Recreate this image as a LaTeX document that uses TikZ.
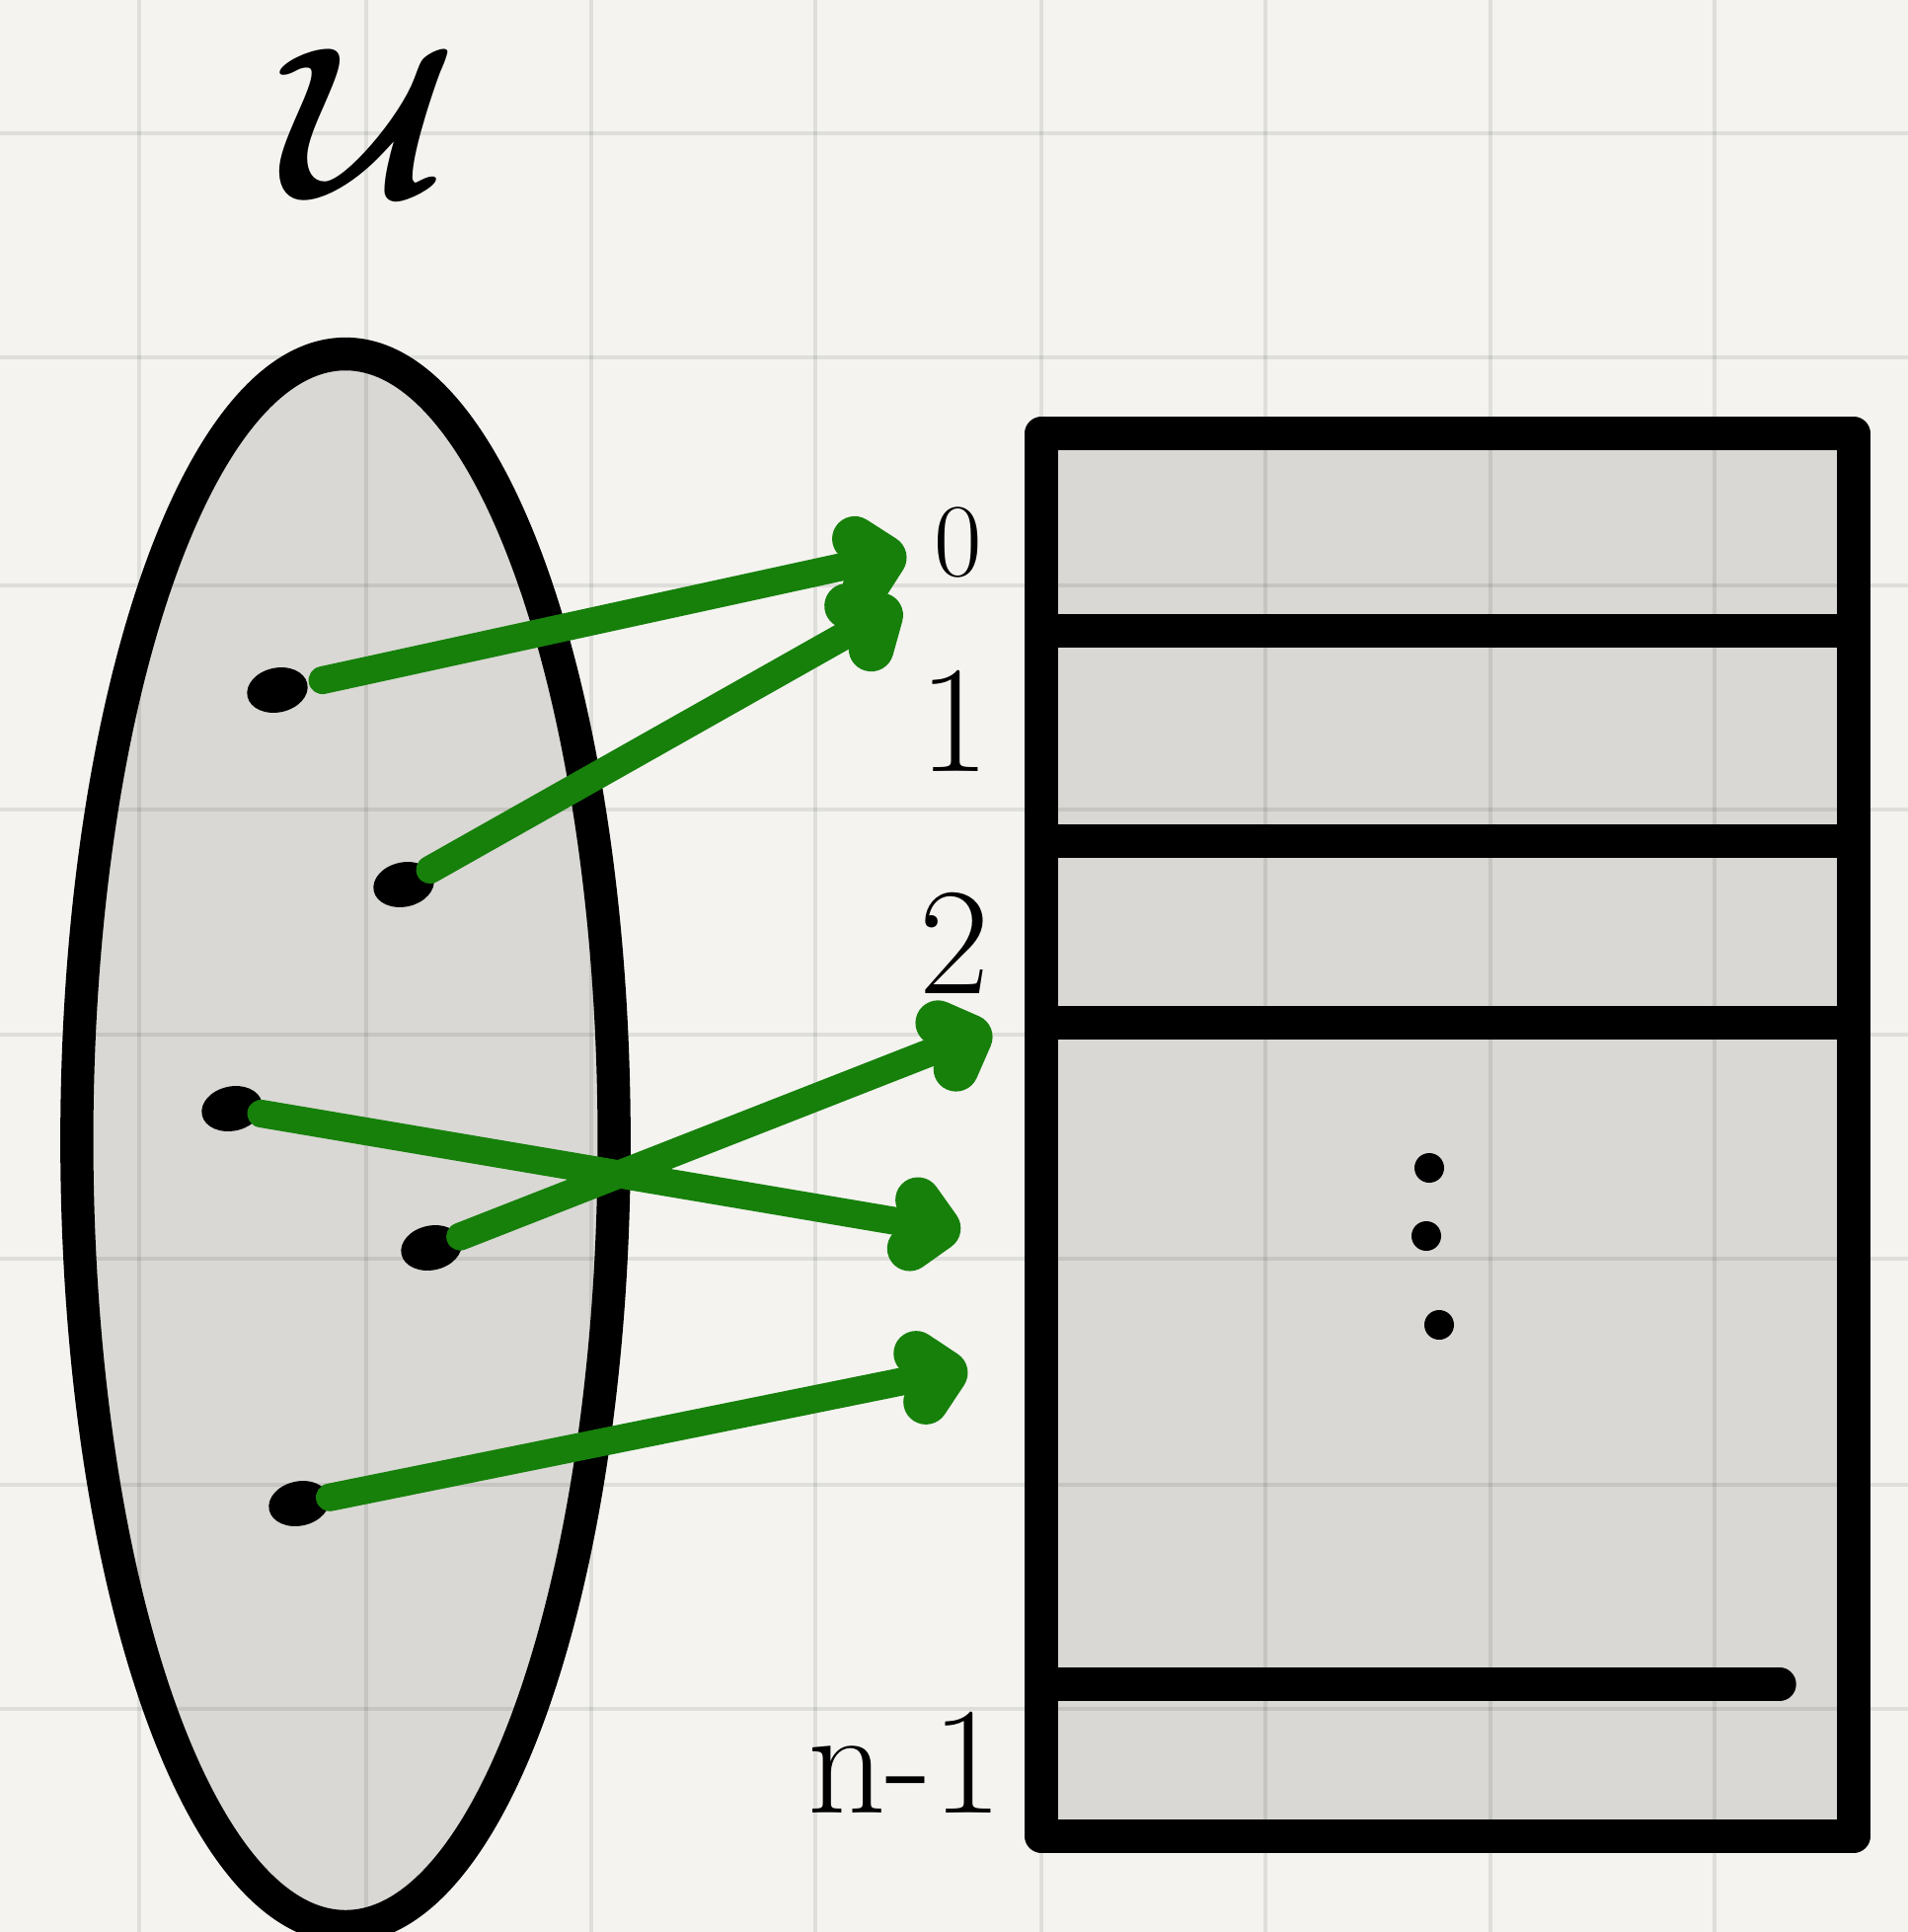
\documentclass[tikz,border=0pt]{standalone}
\usepackage{amsmath,amssymb}
\usetikzlibrary{arrows.meta,shapes.geometric}
\definecolor{paper}{HTML}{F4F3F0}
\definecolor{slotgray}{HTML}{D9D8D4}
\definecolor{mapgreen}{HTML}{16800A}
\tikzset{
  keydot/.style={ellipse, fill=black, inner sep=0pt, minimum width=0.62cm, minimum height=0.45cm, rotate=12},
  hasharrow/.style={draw=mapgreen, line width=8pt, line cap=round, -{Straight Barb[length=2.5mm,width=5mm,round,line width=13pt]}},
  slotlabel/.style={font=\fontsize{44}{44}\selectfont, inner sep=0pt},
  inkline/.style={line width=9.5pt, line cap=round, line join=round},
  gridline/.style={draw=black, draw opacity=0.085, line width=1.3pt}
}
\begin{document}
\begin{tikzpicture}[x=0.01cm,y=-0.01cm]
\useasboundingbox (0,0) rectangle (1933,1957);
\fill[paper] (0,0) rectangle (1933,1957);
\fill[slotgray] (350,1155) ellipse [x radius=2.72cm, y radius=7.96cm];
\fill[slotgray] (1055,439) rectangle (1878,1860);
\foreach \g in {141,371,599,826,1055,1282,1510,1737}
  \draw[gridline] (\g,0) -- (\g,1957);
\foreach \g in {135,362,593,820,1048,1275,1504,1731}
  \draw[gridline] (0,\g) -- (1933,\g);
\draw[inkline] (350,1155) ellipse [x radius=2.72cm, y radius=7.96cm];
\draw[inkline] (1055,439) rectangle (1878,1860);
\foreach \y in {639,852,1036}
  \draw[inkline] (1055,\y) -- (1878,\y);
\draw[inkline] (1055,1706) -- (1803,1706);
\foreach \p in {(1448,1183),(1445,1252),(1458,1342)}
  \fill \p circle [radius=0.15cm];
\node[scale=6.2, inner sep=0pt] (U) at (375,125) {$\boldsymbol{\mathcal{U}}$};
\node[slotlabel, font=\fontsize{30}{30}\selectfont] (s0) at (971,549) {0};
\node[slotlabel] (s1) at (967,730) {1};
\node[slotlabel] (s2) at (967,955) {2};
\node[slotlabel] (sn) at (917,1785) {n-1};
\node[keydot] (k1) at (281,699) {};
\node[keydot] (k2) at (409,896) {};
\node[keydot] (k3) at (235,1123) {};
\node[keydot] (k4) at (437,1264) {};
\node[keydot] (k5) at (303,1523) {};
\coordinate (h1) at (918,560);
\coordinate (h2) at (912,612);
\coordinate (h3) at (973,1248);
\coordinate (h4) at (1004,1042);
\coordinate (h5) at (980,1386);
\draw[hasharrow, shorten <=0.15cm] (k1) -- (h1);
\draw[hasharrow] (k2) -- (h2);
\draw[hasharrow] (k3) -- (h3);
\draw[hasharrow] (k4) -- (h4);
\draw[hasharrow] (k5) -- (h5);
\end{tikzpicture}
\end{document}
